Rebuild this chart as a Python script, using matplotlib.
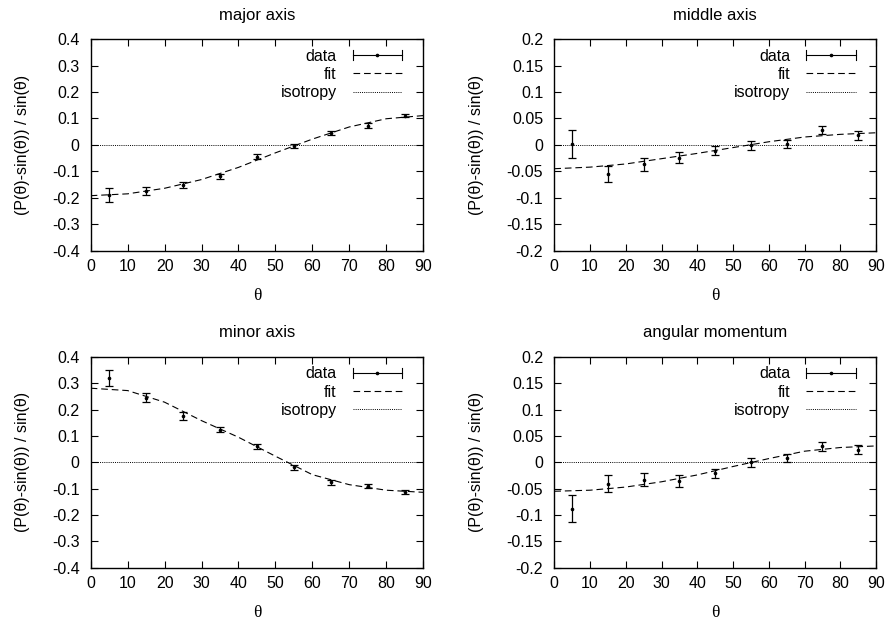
import numpy as np
import matplotlib
matplotlib.use('Agg')
import matplotlib.pyplot as plt
from matplotlib.legend_handler import HandlerBase
from matplotlib.lines import Line2D
from matplotlib.ticker import MultipleLocator, FormatStrFormatter

plt.rcParams['font.family'] = ['Liberation Sans', 'DejaVu Sans']
plt.rcParams['font.size'] = 11.5
plt.rcParams['axes.unicode_minus'] = False

# bin centres (degrees) and fit sample angles
theta = [5, 15, 25, 35, 45, 55, 65, 75, 85]
fit_theta = [0, 10, 20, 30, 40, 50, 60, 70, 80, 90]

# major axis
major_y = [-0.190, -0.173, -0.152, -0.119, -0.044, -0.004, 0.044, 0.073, 0.111]
major_err = [0.027, 0.015, 0.012, 0.010, 0.010, 0.008, 0.008, 0.010, 0.007]
major_fit = [-0.192, -0.185, -0.164, -0.131, -0.085, -0.030, 0.022, 0.068, 0.099, 0.111]

# middle axis
middle_y = [0.002, -0.055, -0.037, -0.024, -0.011, -0.001, 0.002, 0.028, 0.018]
middle_err = [0.027, 0.015, 0.012, 0.010, 0.009, 0.008, 0.008, 0.008, 0.008]
middle_fit = [-0.045, -0.042, -0.036, -0.026, -0.016, -0.005, 0.006, 0.015, 0.020, 0.023]

# minor axis
minor_y = [0.319, 0.244, 0.175, 0.124, 0.061, -0.019, -0.076, -0.089, -0.113]
minor_err = [0.030, 0.017, 0.014, 0.010, 0.009, 0.009, 0.009, 0.008, 0.008]
minor_fit = [0.281, 0.272, 0.228, 0.158, 0.095, 0.023, -0.047, -0.085, -0.106, -0.114]

# angular momentum
angmom_y = [-0.088, -0.041, -0.033, -0.035, -0.021, 0.000, 0.008, 0.030, 0.024]
angmom_err = [0.026, 0.016, 0.012, 0.011, 0.009, 0.009, 0.008, 0.008, 0.008]
angmom_fit = [-0.055, -0.053, -0.047, -0.037, -0.024, -0.008, 0.007, 0.021, 0.028, 0.031]

titles = ['major axis', 'middle axis', 'minor axis', 'angular momentum']


class ErrorbarKey(HandlerBase):
    # gnuplot-style key: horizontal bar with end caps and a dot in the middle
    def create_artists(self, legend, orig_handle, xdescent, ydescent,
                       width, height, fontsize, trans):
        y = height / 2.0 - ydescent
        x0, x1 = -xdescent, width - xdescent
        c = 3.5
        arts = [Line2D([x0, x1], [y, y]),
                Line2D([x0, x0], [y - c, y + c]),
                Line2D([x1, x1], [y - c, y + c]),
                Line2D([(x0 + x1) / 2], [y], marker='o', markersize=1.6,
                       linestyle='none')]
        for a in arts:
            a.set_color('black')
            a.set_linewidth(0.8)
            a.set_transform(trans)
        return arts


def draw_panel(ax, y, err, fit, title, ylim, ystep):
    eb = ax.errorbar(theta, y, yerr=err, fmt='o', color='black', ms=1.6,
                     elinewidth=0.9, capsize=3.0, capthick=0.9, zorder=4)
    fit_line, = ax.plot(fit_theta, fit, color='black', lw=0.8,
                        dashes=(6, 3.5), zorder=3)
    iso_line = ax.axhline(0, color='black', lw=0.7, dashes=(1.0, 1.2), zorder=2)

    ax.set_xlim(0, 90)
    ax.set_ylim(*ylim)
    ax.xaxis.set_major_locator(MultipleLocator(10))
    ax.yaxis.set_major_locator(MultipleLocator(ystep))
    ax.yaxis.set_major_formatter(FormatStrFormatter('%g'))
    ax.tick_params(direction='in', length=5, width=0.8, top=True, right=True,
                   labelsize=11.5)
    ax.tick_params(axis='y', pad=8)
    ax.tick_params(axis='x', pad=6)
    for s in ax.spines.values():
        s.set_linewidth(1.0)

    ax.set_title(title, fontsize=12, pad=14)
    ax.set_xlabel('θ', family=['Liberation Serif', 'DejaVu Serif'],
                  fontsize=12.5, labelpad=10)
    ax.set_ylabel('(P(θ)-sin(θ)) / sin(θ)', fontsize=11.5, labelpad=16)

    key = Line2D([], [])
    ax.legend([key, fit_line, iso_line], ['data', 'fit', 'isotropy'],
              handler_map={key: ErrorbarKey()}, markerfirst=False,
              frameon=False, loc='upper right', bbox_to_anchor=(0.937, 0.955),
              borderaxespad=0, borderpad=0, handlelength=3.1,
              handletextpad=1.0, labelspacing=0.2, fontsize=11.5)


fig = plt.figure(figsize=(8.89, 6.22), dpi=100)
ax1 = fig.add_axes([0.102, 0.597, 0.374, 0.340])
ax2 = fig.add_axes([0.6235, 0.597, 0.362, 0.340])
ax3 = fig.add_axes([0.102, 0.0873, 0.374, 0.339])
ax4 = fig.add_axes([0.6235, 0.0873, 0.362, 0.339])

draw_panel(ax1, major_y, major_err, major_fit, titles[0], (-0.4, 0.4), 0.1)
draw_panel(ax2, middle_y, middle_err, middle_fit, titles[1], (-0.2, 0.2), 0.05)
draw_panel(ax3, minor_y, minor_err, minor_fit, titles[2], (-0.4, 0.4), 0.1)
draw_panel(ax4, angmom_y, angmom_err, angmom_fit, titles[3], (-0.2, 0.2), 0.05)

fig.savefig('out.png', dpi=100, facecolor='white')
